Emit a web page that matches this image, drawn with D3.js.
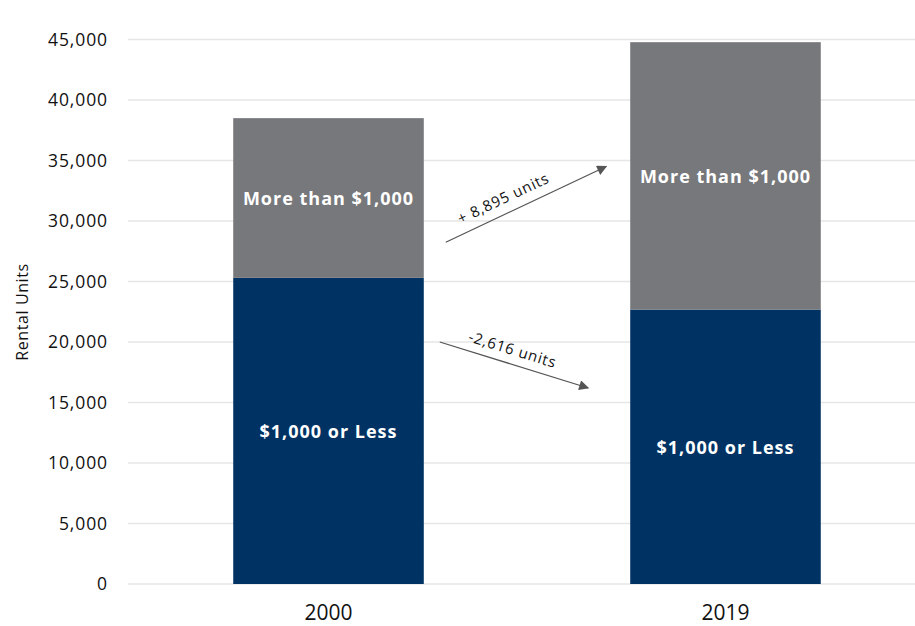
<!DOCTYPE html>
<html>
<head>
<meta charset="utf-8">
<script src="https://cdn.jsdelivr.net/npm/d3@7"></script>
<style>
  body { margin: 0; background: #fff; }
  text { font-family: "Open Sans", "Lato", sans-serif; }
</style>
</head>
<body>
<div id="chart"></div>
<script>
// data
var years = ["2000", "2019"];
var lessThan1000 = [25300, 22684];
var moreThan1000 = [13200, 22095];
var seriesNames = ["$1,000 or Less", "More than $1,000"];
var seriesColors = ["#003263", "#77787b"];
var yTicks = [0, 5000, 10000, 15000, 20000, 25000, 30000, 35000, 40000, 45000];
var changeLabels = ["+ 8,895 units", "-2,616 units"];

var width = 915, height = 626;
var margin = { top: 40, right: 0, bottom: 42, left: 128 };

var svg = d3.select("#chart").append("svg")
  .attr("width", width).attr("height", height);

var xScale = d3.scaleBand()
  .domain(years)
  .range([132, 922])
  .paddingInner(0.52)
  .paddingOuter(0.255);

var yScale = d3.scaleLinear()
  .domain([0, 45000])
  .range([584, 39.5]);

// gridlines
svg.append("g")
  .selectAll("line")
  .data(yTicks)
  .enter()
  .append("line")
  .attr("x1", margin.left)
  .attr("x2", width)
  .attr("y1", d => yScale(d))
  .attr("y2", d => yScale(d))
  .attr("stroke", "#e6e6e6")
  .attr("stroke-width", 1.5);

// y axis labels
var axisy = d3.axisLeft(yScale).tickValues(yTicks).tickSize(0).tickPadding(0)
  .tickFormat(d3.format(","));
var yAxisG = svg.append("g")
  .attr("transform", "translate(108,0)")
  .call(axisy);
yAxisG.select(".domain").remove();
yAxisG.selectAll("text")
  .style("font-family", "'Open Sans', sans-serif")
  .style("font-size", "17.5px")
  .style("letter-spacing", "0.9px")
  .attr("fill", "#111");

svg.append("text")
  .attr("transform", "translate(22," + 312 + ") rotate(-90)")
  .attr("text-anchor", "middle")
  .attr("dominant-baseline", "central")
  .style("font-size", "16px")
  .style("letter-spacing", "0.6px")
  .attr("fill", "#111")
  .text("Rental Units");

// stacked bars
var rows = years.map(function(y, i) {
  return { year: y, less: lessThan1000[i], more: moreThan1000[i] };
});
var stack = d3.stack().keys(["less", "more"]);
var layers = stack(rows);

var layerG = svg.append("g")
  .selectAll("g")
  .data(layers)
  .enter()
  .append("g")
  .attr("fill", (d, i) => seriesColors[i]);

layerG.selectAll("rect")
  .data(d => d)
  .enter()
  .append("rect")
  .attr("x", d => xScale(d.data.year))
  .attr("width", xScale.bandwidth())
  .attr("y", d => yScale(d[1]))
  .attr("height", d => yScale(d[0]) - yScale(d[1]));

layerG.each(function(layer, li) {
  d3.select(this).selectAll("text.seg")
    .data(layer)
    .enter()
    .append("text")
    .attr("class", "seg")
    .attr("x", d => xScale(d.data.year) + xScale.bandwidth() / 2)
    .attr("y", d => (yScale(d[0]) + yScale(d[1])) / 2)
    .attr("text-anchor", "middle")
    .attr("dominant-baseline", "central")
    .attr("fill", "#fff")
    .style("font-size", "18px")
    .style("letter-spacing", "1px")
    .style("font-weight", "bold")
    .text(seriesNames[li]);
});

// x axis labels
svg.append("g")
  .selectAll("text")
  .data(years)
  .enter()
  .append("text")
  .attr("x", d => xScale(d) + xScale.bandwidth() / 2)
  .attr("y", 612)
  .attr("text-anchor", "middle")
  .attr("dominant-baseline", "central")
  .style("font-size", "21px")
  .attr("fill", "#111")
  .text(d => d);

// change arrows
svg.append("defs").append("marker")
  .attr("id", "arrow")
  .attr("viewBox", "0 0 10 10")
  .attr("refX", 9).attr("refY", 5)
  .attr("markerWidth", 12).attr("markerHeight", 10)
  .attr("markerUnits", "userSpaceOnUse")
  .attr("orient", "auto")
  .append("path")
  .attr("d", "M0,0 L10,5 L0,10 Z")
  .attr("fill", "#555");

var x0 = xScale("2000") + xScale.bandwidth();
var x1 = xScale("2019");
var arrows = [
  { x1: x0 + 22, y1: yScale(28250), x2: x1 - 24, y2: yScale(34500), label: changeLabels[0], off: -10, shift: -18 },
  { x1: x0 + 16, y1: yScale(20000), x2: x1 - 42, y2: yScale(16200), label: changeLabels[1], off: -9, shift: -6 }
];

arrows.forEach(function(a) {
  svg.append("line")
    .attr("x1", a.x1).attr("y1", a.y1)
    .attr("x2", a.x2).attr("y2", a.y2)
    .attr("stroke", "#555")
    .attr("stroke-width", 1.2)
    .attr("marker-end", "url(#arrow)");
  var ang = Math.atan2(a.y2 - a.y1, a.x2 - a.x1) * 180 / Math.PI;
  var mx = (a.x1 + a.x2) / 2, my = (a.y1 + a.y2) / 2;
  svg.append("text")
    .attr("transform", "translate(" + mx + "," + my + ") rotate(" + ang + ") translate(" + a.shift + "," + a.off + ")")
    .attr("text-anchor", "middle")
    .style("font-size", "15px")
    .style("letter-spacing", "0.8px")
    .attr("fill", "#111")
    .text(a.label);
});
</script>
</body>
</html>
